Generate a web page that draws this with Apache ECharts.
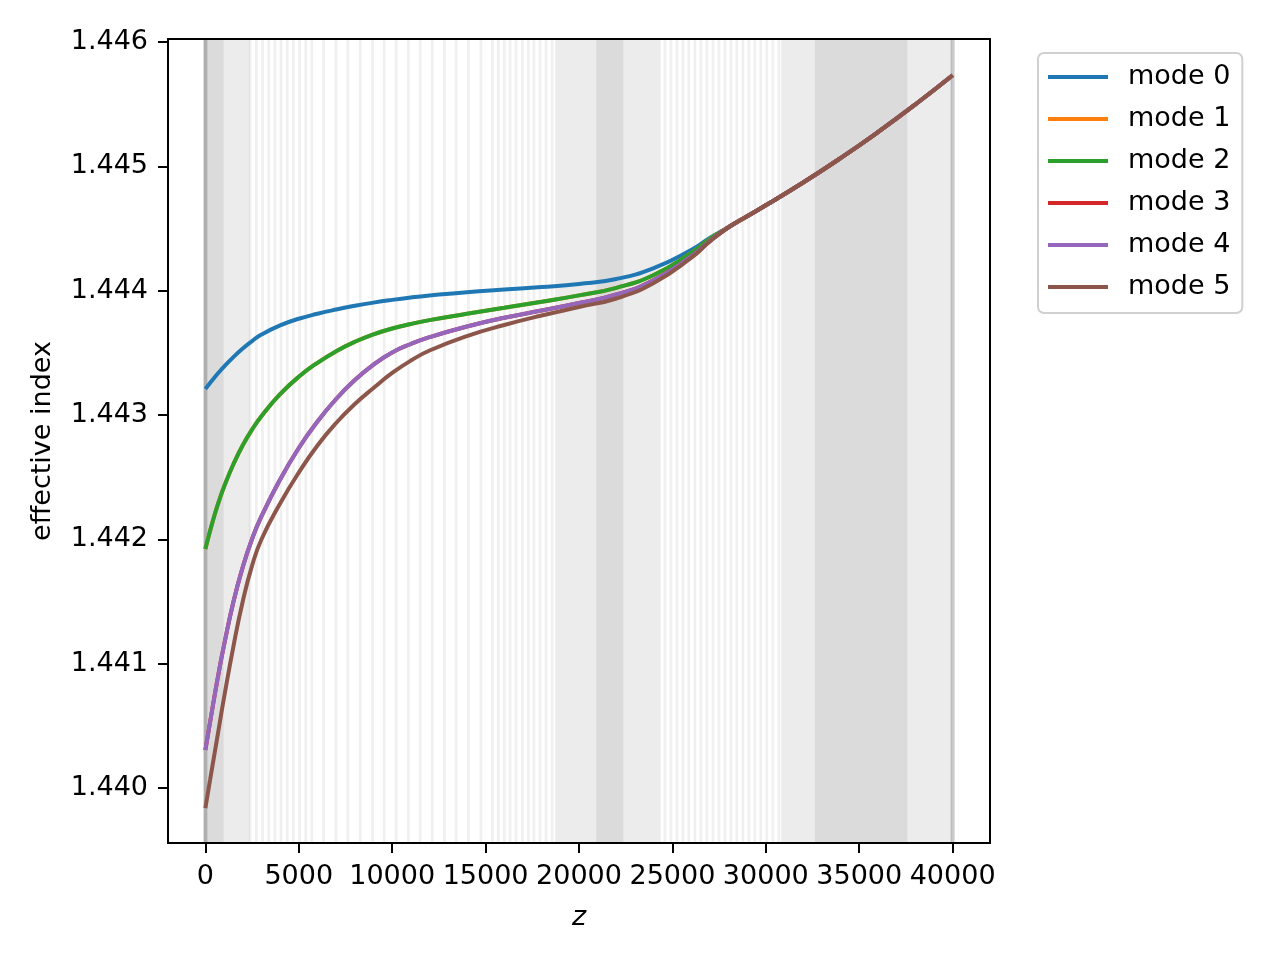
<!DOCTYPE html>
<html>
<head>
<meta charset="utf-8">
<script src="https://cdn.jsdelivr.net/npm/echarts@6/dist/echarts.min.js"></script>
<style>
html,body{margin:0;padding:0;background:#fff;}
#chart{width:1280px;height:960px;}
</style>
</head>
<body>
<div id="chart"></div>
<script>
// ---- data ----
const modeNames = ['mode 0', 'mode 1', 'mode 2', 'mode 3', 'mode 4', 'mode 5'];
const zSamples = [0, 250, 500, 750, 1000, 1500, 2000, 2500, 3000, 4000, 5000, 6000, 7000, 8000, 9000, 10000, 11000, 12000, 14000, 16000, 18000, 20000, 22000, 24000, 26000, 27000, 28000, 29000, 30000, 32000, 34000, 36000, 38000, 40000];
const mode0 = [1.443209, 1.443257, 1.443304, 1.443348, 1.44339, 1.443466, 1.443535, 1.443595, 1.443647, 1.443721, 1.443774, 1.443814, 1.443848, 1.443878, 1.443904, 1.443926, 1.443945, 1.443961, 1.443988, 1.444009, 1.444029, 1.444054, 1.444094, 1.444182, 1.444327, 1.444424, 1.44451, 1.444599, 1.444687, 1.44487, 1.445066, 1.445275, 1.445497, 1.445732];
const mode1 = [1.441922, 1.442067, 1.4422, 1.442318, 1.442423, 1.442604, 1.442757, 1.442883, 1.44299, 1.443167, 1.443308, 1.44342, 1.443513, 1.443589, 1.443649, 1.443696, 1.443732, 1.443763, 1.443814, 1.443862, 1.443911, 1.443962, 1.444023, 1.444126, 1.444303, 1.444416, 1.44451, 1.444599, 1.444687, 1.44487, 1.445066, 1.445275, 1.445497, 1.445732];
const mode2 = [1.441922, 1.442067, 1.4422, 1.442318, 1.442423, 1.442604, 1.442757, 1.442883, 1.44299, 1.443167, 1.443308, 1.44342, 1.443513, 1.443589, 1.443649, 1.443696, 1.443732, 1.443763, 1.443814, 1.443862, 1.443911, 1.443962, 1.444023, 1.444126, 1.444303, 1.444416, 1.44451, 1.444599, 1.444687, 1.44487, 1.445066, 1.445275, 1.445497, 1.445732];
const mode3 = [1.440306, 1.440527, 1.440748, 1.440957, 1.44115, 1.441496, 1.441777, 1.442003, 1.442184, 1.442481, 1.442735, 1.442948, 1.443129, 1.443281, 1.443406, 1.443503, 1.443571, 1.443626, 1.443712, 1.443782, 1.44384, 1.443901, 1.443969, 1.444086, 1.444275, 1.444399, 1.44451, 1.444599, 1.444687, 1.44487, 1.445066, 1.445275, 1.445497, 1.445732];
const mode4 = [1.440306, 1.440527, 1.440748, 1.440957, 1.44115, 1.441496, 1.441777, 1.442003, 1.442184, 1.442481, 1.442735, 1.442948, 1.443129, 1.443281, 1.443406, 1.443503, 1.443571, 1.443626, 1.443712, 1.443782, 1.44384, 1.443901, 1.443969, 1.444086, 1.444275, 1.444399, 1.44451, 1.444599, 1.444687, 1.44487, 1.445066, 1.445275, 1.445497, 1.445732];
const mode5 = [1.439839, 1.440064, 1.440285, 1.440507, 1.440728, 1.441138, 1.4415, 1.441789, 1.441999, 1.442288, 1.442537, 1.442755, 1.442936, 1.443088, 1.443217, 1.443338, 1.443438, 1.443519, 1.443635, 1.443724, 1.4438, 1.443869, 1.443937, 1.444062, 1.444263, 1.444395, 1.44451, 1.444599, 1.444687, 1.44487, 1.445066, 1.445275, 1.445497, 1.445732];

const xTickValues = [0, 5000, 10000, 15000, 20000, 25000, 30000, 35000, 40000];
const yTickValues = [1.440, 1.441, 1.442, 1.443, 1.444, 1.445, 1.446];

// z positions of individually visible step markers (vertical gray lines)
const sparseStepZ = [2400, 2730, 3060, 3390, 3720, 4050, 4380, 4710, 5040, 5370, 5700,
  6330, 6990, 7630, 8290, 8950, 9570, 10210, 10870, 11500, 12150, 12800, 13420, 14080, 14750, 15360,
  15680, 16000, 16310, 16630, 16970, 17290, 17590, 17910, 18240, 18560,
  24600, 24920, 25240, 25560, 25880, 26200, 26520, 26840, 27170, 27490, 27810, 28130, 28450, 28770, 29090, 29410, 29730, 30050, 30380, 30700];
// densely stepped z ranges
const denseLightRanges = [[900, 2300], [18800, 21000], [22300, 24300], [30900, 32700], [37500, 39900]];
const denseHeavyRanges = [[0, 900], [21000, 22300], [32700, 37500]];
const edgeStepZ = [0, 40000];

// ---- chart ----
const colors = ['#1f77b4', '#ff7f0e', '#2ca02c', '#d62728', '#9467bd', '#8c564b'];
const modeData = [mode0, mode1, mode2, mode3, mode4, mode5];
const FONT = 'DejaVu Sans';

function bandSeries(ranges, fill) {
  return {
    type: 'custom', silent: true, z: 1, clip: true,
    encode: { x: [0, 1] },
    data: ranges,
    renderItem: function (params, api) {
      const cs = params.coordSys;
      const a = api.coord([api.value(0), 1.443])[0];
      const b = api.coord([api.value(1), 1.443])[0];
      return { type: 'rect', shape: { x: a - 1.4, y: cs.y + 1, width: b - a + 2.8, height: cs.height - 2 }, style: { fill: fill } };
    }
  };
}
function lineMarkSeries(zs, width, fill) {
  return {
    type: 'custom', silent: true, z: 2, clip: true,
    encode: { x: 0 },
    data: zs.map(function (z) { return [z]; }),
    renderItem: function (params, api) {
      const cs = params.coordSys;
      const x = api.coord([api.value(0), 1.443])[0];
      return { type: 'rect', shape: { x: x - width / 2, y: cs.y + 1, width: width, height: cs.height - 2 }, style: { fill: fill } };
    }
  };
}

const series = [
  bandSeries(denseLightRanges, '#ececec'),
  bandSeries(denseHeavyRanges, '#dbdbdb'),
  lineMarkSeries(sparseStepZ, 2.8, 'rgba(0,0,0,0.058)'),
  lineMarkSeries(edgeStepZ, 4, 'rgba(0,0,0,0.2)')
];
modeNames.forEach(function (name, i) {
  series.push({
    name: name, type: 'line', z: 10 + i,
    data: zSamples.map(function (z, k) { return [z, modeData[i][k]]; }),
    showSymbol: false, symbol: 'none',
    smooth: 0.5,
    lineStyle: { color: colors[i], width: 4 },
    itemStyle: { color: colors[i] },
    emphasis: { disabled: true }
  });
});

const chart = echarts.init(document.getElementById('chart'), null, { renderer: 'canvas' });
chart.setOption({
  animation: false,
  backgroundColor: '#fff',
  color: colors,
  grid: { left: 168, right: 290, top: 39, bottom: 117, show: true, borderColor: '#000', borderWidth: 2, backgroundColor: 'rgba(0,0,0,0)' },
  legend: {
    data: modeNames, orient: 'vertical', left: 1038, top: 53,
    icon: 'rect', itemWidth: 60, itemHeight: 4, itemGap: 12,
    padding: [9, 12, 11, 10],
    backgroundColor: '#fff', borderColor: '#d0d0d0', borderWidth: 2, borderRadius: 6,
    textStyle: { fontFamily: FONT, fontSize: 27, color: '#000', lineHeight: 30, padding: [0, 0, 0, 15] },
    selectedMode: false
  },
  xAxis: {
    type: 'value', min: -2000, max: 42000,
    name: 'z', nameLocation: 'middle', nameGap: 61,
    nameTextStyle: { fontFamily: FONT, fontSize: 27, fontStyle: 'italic', color: '#000' },
    axisLine: { show: false, onZero: false },
    axisTick: { show: true, customValues: xTickValues, length: 10, lineStyle: { color: '#000', width: 2 } },
    axisLabel: { customValues: xTickValues, margin: 20, fontFamily: FONT, fontSize: 27, color: '#000', hideOverlap: false, showMinLabel: true, showMaxLabel: true, formatter: function (v) { return String(v); } },
    splitLine: { show: false }
  },
  yAxis: {
    type: 'value', min: 1.439558, max: 1.446024,
    name: 'effective index', nameLocation: 'middle', nameGap: 112, nameRotate: 90,
    nameTextStyle: { fontFamily: FONT, fontSize: 27, color: '#000' },
    axisLine: { show: false, onZero: false },
    axisTick: { show: true, customValues: yTickValues, length: 10, lineStyle: { color: '#000', width: 2 } },
    axisLabel: { customValues: yTickValues, margin: 20, fontFamily: FONT, fontSize: 27, color: '#000', formatter: function (v) { return v.toFixed(3); } },
    splitLine: { show: false }
  },
  series: series
});
</script>
</body>
</html>
